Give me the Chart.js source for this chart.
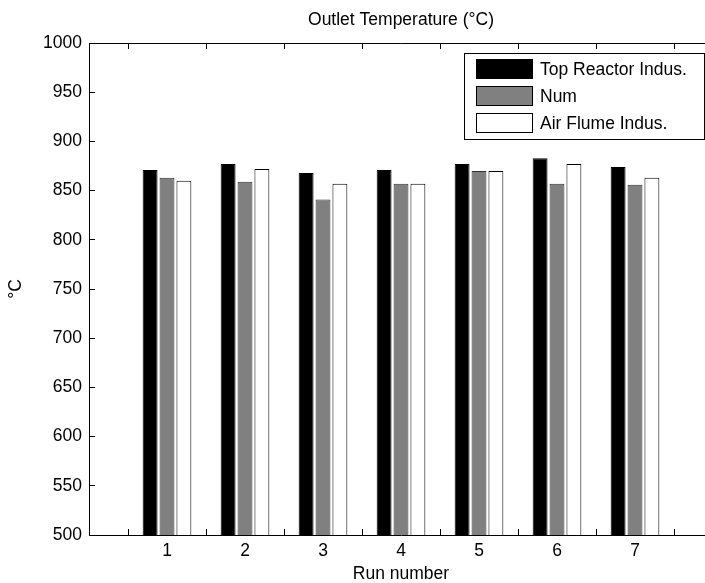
<!DOCTYPE html>
<html>
<head>
<meta charset="utf-8">
<script src="https://cdn.jsdelivr.net/npm/chart.js@4/dist/chart.umd.min.js"></script>
<style>
  html, body { margin: 0; padding: 0; background: #fff; overflow: hidden; width: 705px; height: 583px; }
  canvas { display: block; }
</style>
</head>
<body>
<canvas id="c" width="730" height="583"></canvas>
<script>
const runs = [1, 2, 3, 4, 5, 6, 7];
const topReactor = [871, 877, 868, 871, 877, 883, 874];
const numValues = [863, 859, 841, 857, 870, 857, 856];
const airFlume = [860, 872, 857, 857, 870, 877, 863];
const seriesNames = ['Top Reactor Indus.', 'Num', 'Air Flume Indus.'];
const chartTitle = 'Outlet Temperature (°C)';
const xTitle = 'Run number';
const yTitle = '°C';

const FONT = { family: '"Liberation Sans", Arial, sans-serif', size: 17.5 };

const toPoints = arr => runs.map((r, i) => ({ x: r, y: arr[i] }));

const legendPlugin = {
  id: 'boxLegend',
  afterDraw(chart) {
    const ctx = chart.ctx;
    const x0 = 464.5, y0 = 53.5, w = 240, h = 86;
    ctx.save();
    ctx.fillStyle = '#fff';
    ctx.fillRect(x0, y0, w, h);
    ctx.strokeStyle = '#000';
    ctx.lineWidth = 1;
    ctx.strokeRect(x0, y0, w, h);
    ctx.font = FONT.size + 'px ' + FONT.family;
    ctx.textBaseline = 'middle';
    ctx.textAlign = 'left';
    const rows = [69, 96, 123];
    chart.data.datasets.forEach((ds, i) => {
      const cy = rows[i];
      ctx.fillStyle = ds.backgroundColor;
      ctx.fillRect(476, cy - 10, 57, 20);
      ctx.strokeStyle = '#000';
      ctx.strokeRect(476.5, cy - 9.5, 56, 19);
      ctx.fillStyle = '#000';
      ctx.fillText(ds.label, 540, cy + 1);
    });
    ctx.restore();
  }
};

new Chart(document.getElementById('c'), {
  type: 'bar',
  data: {
    datasets: [
      { label: seriesNames[0], data: toPoints(topReactor), backgroundColor: '#000000', borderColor: '#000000', borderWidth: 1 },
      { label: seriesNames[1], data: toPoints(numValues), backgroundColor: '#808080', borderColor: '#303030', borderWidth: 1 },
      { label: seriesNames[2], data: toPoints(airFlume), backgroundColor: '#ffffff', borderColor: '#000000', borderWidth: 1 }
    ]
  },
  options: {
    responsive: false,
    devicePixelRatio: 1,
    animation: false,
    layout: { padding: { left: 0, right: 17, top: 0, bottom: 0 } },
    datasets: { bar: { categoryPercentage: 0.65, barPercentage: 0.88 } },
    plugins: {
      legend: { display: false },
      tooltip: { enabled: false },
      title: {
        display: true,
        text: chartTitle,
        fullSize: false,
        color: '#000',
        font: { ...FONT, weight: 'normal' },
        padding: { top: 10, bottom: 12 }
      }
    },
    scales: {
      x: {
        type: 'linear',
        position: 'bottom',
        min: 0, max: 8,
        offset: false,
        afterFit: s => { s.height = 48; },
        ticks: {
          stepSize: 1,
          autoSkip: false,
          maxRotation: 0,
          color: '#000',
          font: FONT,
          padding: 12,
          callback: v => runs.includes(v) ? String(v) : ''
        },
        grid: { display: true, drawOnChartArea: false, drawTicks: true, tickLength: -6, color: '#000' },
        border: { display: true, color: '#000', width: 1 },
        title: { display: true, text: xTitle, color: '#000', font: { ...FONT, lineHeight: 1 }, padding: { top: 0, bottom: 0 } }
      },
      x2: {
        type: 'linear',
        position: 'top',
        min: 0, max: 8,
        offset: false,
        afterFit: s => { s.height = 0; },
        ticks: { stepSize: 1, display: false },
        grid: { display: true, drawOnChartArea: false, drawTicks: true, tickLength: -6, color: '#000' },
        border: { display: true, color: '#000', width: 1 }
      },
      y: {
        type: 'linear',
        position: 'left',
        min: 500, max: 1000,
        afterFit: s => { s.width = 89; },
        ticks: { stepSize: 50, color: '#000', font: FONT, padding: 13, callback: v => String(v) },
        grid: { display: true, drawOnChartArea: false, drawTicks: true, tickLength: -6, color: '#000' },
        border: { display: true, color: '#000', width: 1 },
        title: { display: true, text: yTitle, color: '#000', font: FONT, padding: { top: 5.5, bottom: 0 } }
      }
    }
  },
  plugins: [legendPlugin]
});
</script>
</body>
</html>
